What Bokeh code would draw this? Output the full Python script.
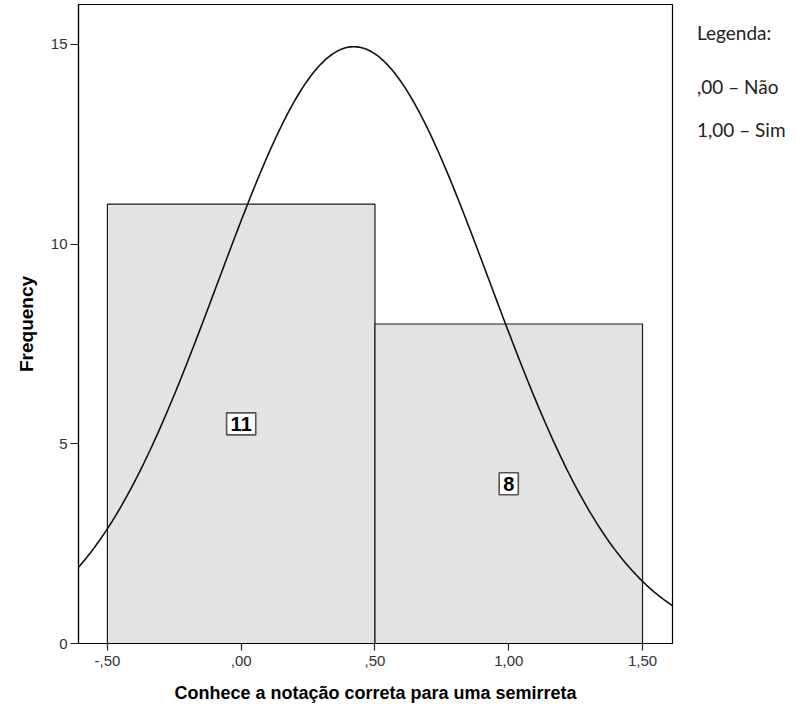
import numpy as np
from bokeh.plotting import figure
from bokeh.models import Label, Range1d, FixedTicker, Div
from bokeh.layouts import row
from bokeh.embed import file_html
from bokeh.resources import INLINE

# Data
categories = [0.0, 1.0]          # ,00 = Não ; 1,00 = Sim
counts = [11, 8]
bin_left = [-0.5, 0.5]
bin_right = [0.5, 1.5]
x_ticks = [-0.5, 0.0, 0.5, 1.0, 1.5]
x_tick_labels = ["-,50", ",00", ",50", "1,00", "1,50"]
y_ticks = [0, 5, 10, 15]
legend_title = "Legenda:"
legend_lines = [",00 \u2013 N\u00e3o", "1,00 \u2013 Sim"]
x_title = "Conhece a nota\u00e7\u00e3o correta para uma semirreta"
y_title = "Frequency"

# Normal curve fitted to the data (mean, sd, N)
n = sum(counts)
mean = sum(c * k for c, k in zip(categories, counts)) / n
sd = np.sqrt(sum(k * (c - mean) ** 2 for c, k in zip(categories, counts)) / (n - 1))
bin_width = 1.0

x_start, x_end = -0.608, 1.612
y_start, y_end = 0, 16.0

p = figure(width=680, height=710, output_backend="svg", toolbar_location=None,
           x_range=Range1d(x_start, x_end), y_range=Range1d(y_start, y_end),
           min_border_left=78, min_border_right=8, min_border_bottom=67, min_border_top=4)
p.background_fill_color = "white"
p.border_fill_color = "white"
p.outline_line_color = "black"
p.outline_line_width = 1.2
p.grid.visible = False

p.quad(left=bin_left, right=bin_right, bottom=0, top=counts,
       fill_color="#e3e3e3", line_color="#1a1a1a", line_width=1.2)

xs = np.linspace(x_start, x_end, 300)
ys = n * bin_width / (sd * np.sqrt(2 * np.pi)) * np.exp(-0.5 * ((xs - mean) / sd) ** 2)
p.line(xs, ys, line_color="#111111", line_width=1.6)

for c, k in zip(categories, counts):
    p.add_layout(Label(x=c, y=k / 2, text=str(k), text_align="center", text_baseline="middle",
                       text_font="Liberation Sans", text_font_style="bold", text_font_size="20px",
                       text_color="black", background_fill_color="white",
                       border_line_color="#555555", border_line_width=1.6, padding=4))

# axes
p.xaxis.ticker = FixedTicker(ticks=x_ticks)
p.xaxis.major_label_overrides = {t: l for t, l in zip(x_ticks, x_tick_labels)}
p.yaxis.ticker = FixedTicker(ticks=y_ticks)
for ax in (p.xaxis, p.yaxis):
    ax.minor_tick_line_color = None
    ax.major_tick_in = 0
    ax.major_tick_line_color = "#222222"
    ax.major_tick_line_width = 1.2
    ax.axis_line_color = "black"
    ax.axis_line_width = 1.2
    ax.major_label_text_font = "Liberation Sans"
    ax.major_label_text_font_size = "15px"
    ax.major_label_text_color = "#333333"
    ax.axis_label_text_font = "Liberation Sans"
    ax.axis_label_text_font_style = "bold"
    ax.axis_label_text_color = "black"
p.xaxis.major_tick_out = 7
p.yaxis.major_tick_out = 8
p.xaxis.axis_label_text_font_size = "18px"
p.yaxis.axis_label_text_font_size = "19px"
p.xaxis.axis_label = x_title
p.yaxis.axis_label = y_title
p.xaxis.major_label_standoff = 5
p.xaxis.axis_label_standoff = 14
p.yaxis.major_label_standoff = 3
p.yaxis.axis_label_standoff = 11

# legend text on the right
tops = [16, 70, 113]
entries = [legend_title] + legend_lines
html = "".join(
    f"<div style='position:absolute; left:12px; top:{t}px; white-space:nowrap; "
    f"font-family:Lato; font-size:19px; line-height:24px; color:#222222;'>{s}</div>"
    for s, t in zip(entries, tops))
div = Div(text=html, width=100, height=710, styles={"position": "relative"})

layout = row(p, div)
open("out.html", "w").write(file_html(layout, INLINE))
